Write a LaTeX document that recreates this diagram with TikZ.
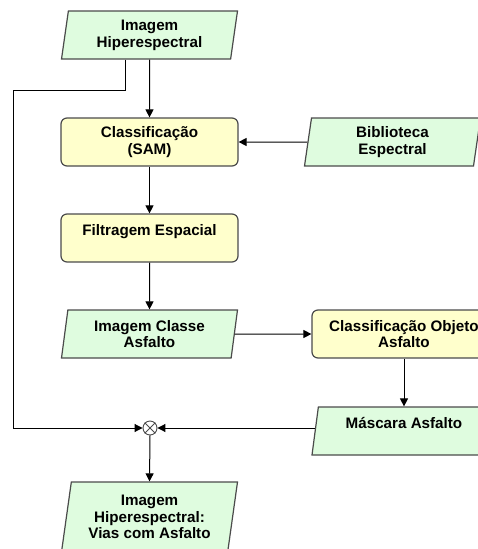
\documentclass[tikz,border=0pt]{standalone}
\usepackage{fontspec}
\setmainfont{Liberation Sans}
\usetikzlibrary{shapes.geometric,arrows.meta}
\definecolor{datagreen}{RGB}{223,252,223}
\definecolor{procyellow}{RGB}{255,255,204}
\definecolor{edgegray}{RGB}{75,75,75}
\tikzset{
  txt/.style={font=\fontsize{15.2}{16.8}\selectfont\bfseries, align=center, text=black},
  databox/.style={txt, trapezium, trapezium left angle=78, trapezium right angle=102,
    trapezium stretches body, fill=datagreen, draw=edgegray, line width=1.2pt,
    minimum width=176pt, minimum height=48pt, inner sep=1pt},
  procbox/.style={txt, rectangle, rounded corners=6pt, fill=procyellow, draw=edgegray,
    line width=1.2pt, minimum width=177pt, minimum height=48pt, inner sep=1pt},
  flow/.style={line width=1pt, -{Triangle[length=8pt,width=8pt]}}
}
\begin{document}
\begin{tikzpicture}[x=1pt,y=-1pt]
        \clip (0,0) rectangle (478,549);
        \node[databox] (img) at (149.5,35) {Imagem\\Hiperespectral};
        \node[procbox] (sam) at (149.5,142) {Classificação\\(SAM)};
        \node[databox] (lib) at (392.5,142) {Biblioteca\\Espectral};
        \node[procbox] (filt) at (149.5,238) {Filtragem Espacial\\\mbox{}};
        \node[databox] (cls) at (149.5,334) {Imagem Classe\\Asfalto};
        \node[procbox, minimum width=184pt] (obj) at (404,334) {Classificação Objeto\\Asfalto};
        \node[databox, minimum width=184pt] (mask) at (404,431) {Máscara Asfalto\\\mbox{}};
        \node[circle, draw=edgegray, line width=0.9pt, minimum size=14pt, inner sep=0pt] (mult) at (150,428) {};
        \draw[edgegray, line width=0.9pt] (mult.north west) -- (mult.south east);
        \draw[edgegray, line width=0.9pt] (mult.north east) -- (mult.south west);
        \node[databox, minimum height=70pt] (out) at (149.5,517) {Imagem\\Hiperespectral:\\Vias com Asfalto};
        \coordinate (turn) at (13,90);
        \draw[flow] (img.south) -- (sam.north);
        \draw[flow] (lib.west) -- (sam.east);
        \draw[flow] (sam.south) -- (filt.north);
        \draw[flow] (filt.south) -- (cls.north);
        \draw[flow] (cls.east) -- (obj.west);
        \draw[flow] (obj.south) -- (mask.north -| obj.south);
        \draw[flow] ([xshift=-24.5pt]img.south) |- (turn) |- (mult.west);
        \draw[flow] (mask.west |- mult) -- (mult.east);
        \draw[flow] (mult.south) -- (out.north);
    \end{tikzpicture}
\end{document}
